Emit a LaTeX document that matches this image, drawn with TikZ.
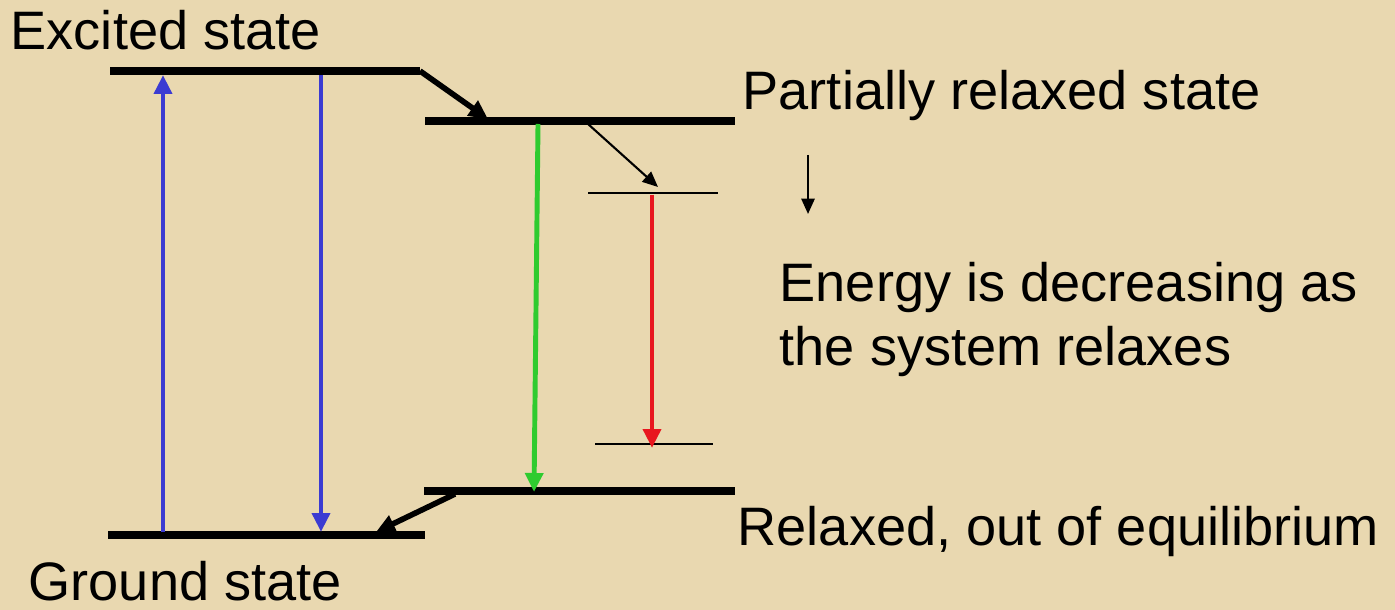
\documentclass[tikz,border=0pt]{standalone}
\usepackage{fontspec}
\setmainfont{Liberation Sans}
\usetikzlibrary{positioning,arrows.meta}
\definecolor{parchment}{HTML}{E9D8B0}
\definecolor{pumpblue}{HTML}{3B3BD2}
\definecolor{emitgreen}{HTML}{2FCB2F}
\definecolor{emitred}{HTML}{E8161E}

\tikzset{
  levelline/.style={line width=2.4pt},
  thinlevel/.style={line width=0.65pt},
  transition/.style={line width=1.4pt, -{Triangle[length=5.4pt,width=5pt]}},
  relaxarrow/.style={line width=1.6pt, -{Triangle[length=5.4pt,width=5pt]}},
  thinarrow/.style={line width=0.6pt, -{Triangle[length=4.4pt,width=3.8pt]}},
  label/.style={inner sep=0pt, anchor=base west, font=\fontsize{15.4}{18.2}\selectfont}
}

\begin{document}
\begin{tikzpicture}[x=0.01cm, y=-0.01cm]
\fill[parchment] (0,0) rectangle (1395,610);
\useasboundingbox (0,0) rectangle (1395,610);

% energy levels
\coordinate (exL) at (110,71);   \coordinate (exR) at (420,71);
\coordinate (prL) at (425,121);  \coordinate (prR) at (735,121);
\coordinate (upL) at (588,193);  \coordinate (upR) at (718,193);
\coordinate (loL) at (595,444);  \coordinate (loR) at (713,444);
\coordinate (rlL) at (424,491);  \coordinate (rlR) at (735,491);
\coordinate (gsL) at (108,535);  \coordinate (gsR) at (425,535);

\draw[levelline] (exL) -- (exR);
\draw[levelline] (prL) -- (prR);
\draw[levelline] (rlL) -- (rlR);
\draw[levelline] (gsL) -- (gsR);
\draw[thinlevel] (upL) -- (upR);
\draw[thinlevel] (loL) -- (loR);

% relaxation steps
\coordinate (prTip) at (488,119);
\coordinate (gsTip) at (376,532);
\draw[relaxarrow] (exR) -- (prTip);
\draw[relaxarrow] (455,494) -- (gsTip);
\coordinate (thinS) at (588,124);
\coordinate (thinE) at (658,187);
\draw[thinarrow] (thinS) -- (thinE);

% optical transitions
\coordinate (absB) at (163,532);  \coordinate (absT) at (163,75);
\coordinate (emT) at (321,75);    \coordinate (emB) at (321,532);
\coordinate (grT) at (538,124);   \coordinate (grB) at (534,492);
\coordinate (rdT) at (652,195);   \coordinate (rdB) at (652,448);
\draw[transition, pumpblue] (absB) -- (absT);
\draw[transition, pumpblue] (emT) -- (emB);
\draw[transition, emitgreen] (grT) -- (grB);
\draw[transition, emitred] (rdT) -- (rdB);

% energy direction
\coordinate (dirT) at (808,155);
\coordinate (dirB) at (808,214);
\draw[thinarrow] (dirT) -- (dirB);

% labels
\node[label] (excited) at (10,50) {Excited state};
\node[label] (partial) at (742,110) {Partially relaxed state};
\node[label, align=left, anchor=north west] (energy) at (779,262)
  {Energy is decreasing as\\the system relaxes};
\node[label] (relaxed) at (737,545) {Relaxed, out of equilibrium};
\node[label] (ground) at (28,600) {Ground state};
\end{tikzpicture}
\end{document}
